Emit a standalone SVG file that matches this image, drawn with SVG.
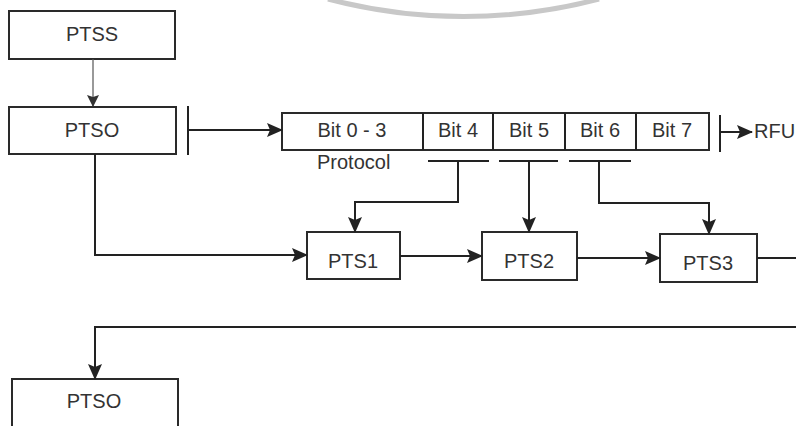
<svg xmlns="http://www.w3.org/2000/svg" width="796" height="426" viewBox="0 0 796 426">
<defs>
<marker id="ah" markerUnits="userSpaceOnUse" markerWidth="16" markerHeight="14" refX="15" refY="7" orient="auto">
<path d="M0,0 L16,7 L0,14 L3,7 z" fill="#222"/>
</marker>
<marker id="ahs" markerUnits="userSpaceOnUse" markerWidth="12" markerHeight="12" refX="11" refY="6" orient="auto">
<path d="M0,0 L12,6 L0,12 L2,6 z" fill="#333"/>
</marker>
</defs>
<style>
.box{fill:#fff;stroke:#2a2a2a;stroke-width:2}
.lbl{font-family:"Liberation Sans",Arial,sans-serif;font-size:20px;fill:#333;text-anchor:middle}
.txt{font-family:"Liberation Sans",Arial,sans-serif;font-size:20px;fill:#333}
.c{fill:none;stroke:#222;stroke-width:2}
.thin{fill:none;stroke:#555;stroke-width:1.2}
</style>
<rect width="796" height="426" fill="#fff"/>
<path d="M328,-1 A 533 533 0 0 0 599,-1" fill="none" stroke="#c8c8c8" stroke-width="5"/>

<g id="PTSS"><rect class="box" x="9" y="11" width="166" height="48" stroke="#555"/><text class="lbl" x="92" y="41">PTSS</text></g>
<g id="PTSO-top"><rect class="box" x="9" y="107" width="167" height="47"/><text class="lbl" x="92" y="137">PTSO</text></g>
<g id="bitfield">
<rect class="box" x="282" y="113" width="427" height="37"/>
<line class="c" x1="423" y1="113" x2="423" y2="150"/>
<line class="c" x1="493" y1="113" x2="493" y2="150"/>
<line class="c" x1="565" y1="113" x2="565" y2="150"/>
<line class="c" x1="636" y1="113" x2="636" y2="150"/>
<text class="lbl" x="352" y="137">Bit 0 - 3</text>
<text class="lbl" x="458" y="137">Bit 4</text>
<text class="lbl" x="529" y="137">Bit 5</text>
<text class="lbl" x="600" y="137">Bit 6</text>
<text class="lbl" x="672" y="137">Bit 7</text>
</g>
<g id="protocol"><text class="txt" x="317" y="169">Protocol</text></g>
<g id="RFU"><text class="txt" x="754" y="138">RFU</text></g>
<g id="PTS1"><rect class="box" x="307" y="232" width="93" height="47"/><text class="lbl" x="353" y="268">PTS1</text></g>
<g id="PTS2"><rect class="box" x="482" y="232" width="95" height="48"/><text class="lbl" x="529" y="268">PTS2</text></g>
<g id="PTS3"><rect class="box" x="660" y="234" width="97" height="48"/><text class="lbl" x="708" y="270">PTS3</text></g>
<g id="PTSO-bottom"><rect class="box" x="12" y="379" width="166" height="60"/><text class="lbl" x="94" y="408">PTSO</text></g>

<g id="connectors">
<line class="thin" x1="93" y1="59" x2="93" y2="106" marker-end="url(#ahs)"/>
<line class="c" x1="188" y1="106" x2="188" y2="155"/>
<line class="c" x1="189" y1="130" x2="282" y2="130" marker-end="url(#ah)"/>
<line class="c" x1="720" y1="115" x2="720" y2="152"/>
<line class="c" x1="720" y1="132" x2="752" y2="132" marker-end="url(#ah)"/>
<line class="c" x1="428" y1="161" x2="489" y2="161"/>
<line class="c" x1="499" y1="161" x2="558" y2="161"/>
<line class="c" x1="569" y1="161" x2="631" y2="161"/>
<polyline class="c" points="458,161 458,202 355,202 355,232" marker-end="url(#ah)"/>
<line class="c" x1="529" y1="161" x2="529" y2="232" marker-end="url(#ah)"/>
<polyline class="c" points="599,161 599,203 709,203 709,234" marker-end="url(#ah)"/>
<polyline class="c" points="95,154 95,255 307,255" marker-end="url(#ah)"/>
<line class="c" x1="400" y1="256" x2="482" y2="256" marker-end="url(#ah)"/>
<line class="c" x1="577" y1="258" x2="660" y2="258" marker-end="url(#ah)"/>
<line class="c" x1="757" y1="258" x2="796" y2="258"/>
<polyline class="c" points="796,327 95,327 95,379" marker-end="url(#ah)"/>
</g>
</svg>
